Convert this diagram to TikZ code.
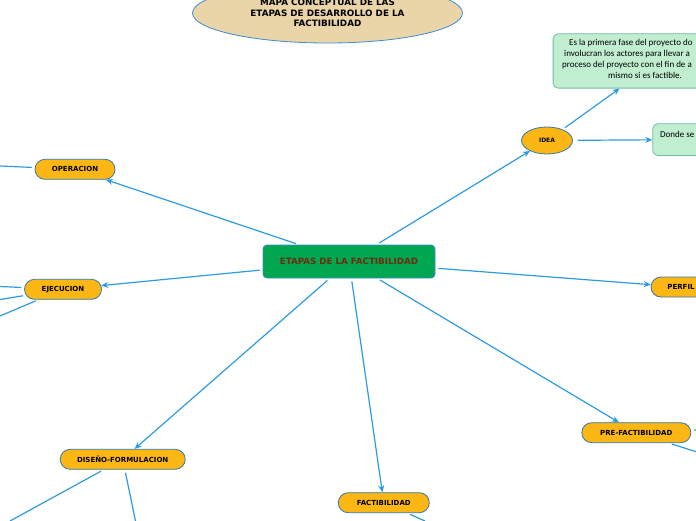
\documentclass[tikz,border=0pt]{standalone}
\usepackage{fontspec}
\setmainfont{DejaVu Sans}
\newfontfamily\notefont{Carlito}
\usetikzlibrary{shapes.geometric,shapes.misc,arrows.meta}
\definecolor{linec}{RGB}{45,155,225}
\definecolor{orangec}{RGB}{252,183,20}
\definecolor{pillborder}{RGB}{50,120,165}
\definecolor{greenc}{RGB}{0,166,80}
\definecolor{centerborder}{RGB}{60,140,215}
\definecolor{centertext}{RGB}{110,45,15}
\definecolor{titlefill}{RGB}{234,213,168}
\definecolor{notefill}{RGB}{193,237,208}
\definecolor{noteborder}{RGB}{110,190,170}
\begin{document}
\begin{tikzpicture}[x=1pt,y=-1pt,
  conn/.style={draw=linec, line width=1.2pt, shorten <=3pt, -{Stealth[length=7pt,width=6pt]}},
  freeline/.style={draw=linec, line width=1.2pt, shorten <=3pt},
  pill/.style={rounded rectangle, fill=orangec, draw=pillborder, line width=0.8pt,
    font=\fontsize{7}{8}\selectfont\bfseries, minimum height=20pt, inner sep=0pt},
  notebox/.style={rectangle, rounded corners=5pt, fill=notefill, draw=noteborder, line width=0.8pt, inner sep=0pt},
  notetext/.style={font=\notefont\fontsize{9}{10.7}\selectfont, inner sep=0pt},
]
\useasboundingbox (0,0) rectangle (696,520);
\clip (0,0) rectangle (696,520);

% title
\node[ellipse, fill=titlefill, draw=centerborder, line width=0.8pt, minimum width=270pt, minimum height=60pt,
  align=center, inner sep=0pt, font=\fontsize{8.8}{10.5}\selectfont\bfseries] (title) at (327.5,13)
  {MAPA CONCEPTUAL DE LAS\\ETAPAS DE DESARROLLO DE LA\\FACTIBILIDAD};

% central node
\node[rectangle, rounded corners=4pt, fill=greenc, draw=centerborder, line width=0.9pt,
  minimum width=172pt, minimum height=33pt, inner sep=0pt,
  font=\fontsize{8.7}{10}\selectfont\bfseries, text=centertext] (center) at (349,261.5) {ETAPAS DE LA FACTIBILIDAD};

% stage nodes
\node[pill, minimum width=80pt] (op) at (75,169.3) {OPERACION};
\node[pill, minimum width=77pt] (ej) at (63,289.3) {EJECUCION};
\node[pill, minimum width=125pt] (df) at (122.7,459.3) {DISEÑO-FORMULACION};
\node[pill, minimum width=91pt] (fa) at (383.8,502.7) {FACTIBILIDAD};
\node[pill, minimum width=109pt] (pf) at (636.3,432.7) {PRE-FACTIBILIDAD};
\node[pill, minimum width=60pt] (pe) at (681,287) {PERFIL};
\node[ellipse, fill=orangec, draw=pillborder, line width=0.8pt, minimum width=51pt, minimum height=27pt,
  inner sep=0pt, font=\fontsize{6}{7}\selectfont\bfseries] (idea) at (547,140.5) {IDEA};

% notes
\node[notebox, anchor=north west, minimum width=210pt, minimum height=54.4pt] (n1) at (552.7,33.3) {};
\node[notetext, anchor=base west] (n1a) at (569,45) {Es la primera fase del proyecto do};
\node[notetext, anchor=base west] (n1b) at (564,56.5) {involucran los actores para llevar a};
\node[notetext, anchor=base west] (n1c) at (562,67) {proceso del proyecto con el fin de a};
\node[notetext, anchor=base west] (n1d) at (608,78) {mismo si es factible.};
\node[notebox, anchor=north west, minimum width=80pt, minimum height=31.7pt] (n2) at (652.3,123.3) {};
\node[notetext, anchor=base west] (n2a) at (660,137.5) {Donde se};

% free ends
\coordinate (f1) at (0,166);
\coordinate (f2) at (0,286.5);
\coordinate (f3) at (0,299.5);
\coordinate (f4) at (0,316);
\coordinate (f5) at (10,521);
\coordinate (f6) at (135.5,521);
\coordinate (f7) at (425,521);
\coordinate (f8) at (697,452);
\coordinate (f9) at (697,430);

% connectors
\draw[conn] (center) -- (op);
\draw[conn] (center) -- (ej);
\draw[conn] (center) -- (df);
\draw[conn] (center) -- (fa);
\draw[conn] (center) -- (pf);
\draw[conn] (center) -- (pe);
\draw[conn] (center) -- (idea);
\draw[conn] (idea) -- (n1);
\draw[conn, shorten <=5pt] (idea) -- (n2);

\draw[freeline] (op) -- (f1);
\draw[freeline] (ej) -- (f2);
\draw[freeline] (ej) -- (f3);
\draw[freeline] (ej) -- (f4);
\draw[freeline] (df) -- (f5);
\draw[freeline] (df) -- (f6);
\draw[freeline] (fa) -- (f7);
\draw[freeline] (pf) -- (f8);
\draw[freeline] (pf) -- (f9);
\end{tikzpicture}
\end{document}
